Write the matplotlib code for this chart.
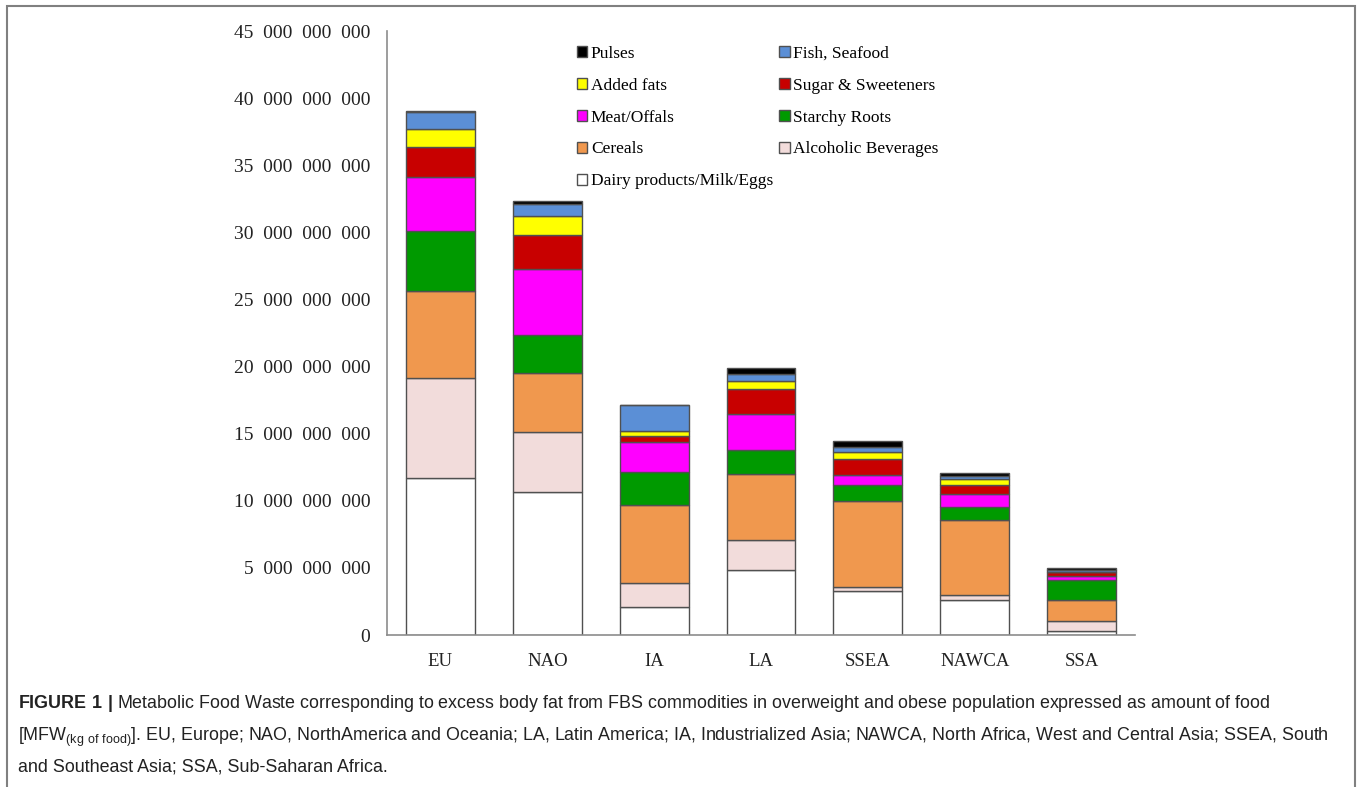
from matplotlib import pyplot as plt
from matplotlib.patches import Rectangle
import numpy as np

# %% Data (values in billions of kg of food)

regions = ['EU','NAO','IA','LA','SSEA','NAWCA','SSA']

dairy     = [11.72,10.66,2.09,4.84,3.30,2.63,0.30]
alcohol   = [7.45,4.47,1.78,2.22,0.30,0.37,0.77]
cereals   = [6.44,4.42,5.79,4.91,6.39,5.55,1.54]
starchy   = [4.49,2.78,2.46,1.82,1.19,0.97,1.49]
meat      = [4.05,4.97,2.26,2.68,0.77,0.96,0.30]
sugar     = [2.19,2.53,0.45,1.86,1.14,0.70,0.29]
fats      = [1.39,1.41,0.39,0.57,0.57,0.47,0.03]
fish      = [1.24,0.85,1.90,0.57,0.37,0.18,0.13]
pulses    = [0.05,0.25,0.05,0.45,0.45,0.26,0.17]

yticks = np.arange(0,46,5)*1e9

# Stack order from the bottom with their colours

series = [
    ('Dairy products/Milk/Eggs',dairy,'#FFFFFF'),
    ('Alcoholic Beverages',alcohol,'#F2DCDB'),
    ('Cereals',cereals,'#F0984E'),
    ('Starchy Roots',starchy,'#009A00'),
    ('Meat/Offals',meat,'#FF00FF'),
    ('Sugar & Sweeteners',sugar,'#C80000'),
    ('Added fats',fats,'#FFFF00'),
    ('Fish, Seafood',fish,'#5B8FD6'),
    ('Pulses',pulses,'#000000'),
]

# %% Figure

plt.rcParams['font.family'] = 'Liberation Serif'
plt.rcParams['mathtext.fontset'] = 'custom'
plt.rcParams['mathtext.rm'] = 'Liberation Sans'
plt.rcParams['mathtext.bf'] = 'Liberation Sans:bold'

fig = plt.figure(figsize=(13.57,7.87),dpi=100)
ax = fig.add_axes([0.2852,0.1931,0.5512,0.7675])

x = np.arange(len(regions))
bottom = np.zeros(len(regions))
bars = {}
for name,values,color in series:
    values = np.array(values)*1e9
    bars[name] = ax.bar(x,values,0.645,bottom=bottom,color=color,
        edgecolor='#505050',linewidth=1,label=name)
    bottom += values

ax.set_xlim(-0.5,6.5)
ax.set_ylim(0,45e9)
ax.set_xticks(x)
ax.set_xticklabels(regions,fontsize=13.5)
ax.set_yticks(yticks)
ax.set_yticklabels([f'{int(v):,}'.replace(',','  ') for v in yticks],fontsize=14)
ax.tick_params(axis='both',length=0,colors='#222222')
ax.tick_params(axis='y',pad=12)
ax.tick_params(axis='x',pad=13)

for side in ['top','right']: ax.spines[side].set_visible(False)
for side in ['left','bottom']:
    ax.spines[side].set_color('#8C8C8C')
    ax.spines[side].set_linewidth(1.2)

# Legend filled row-wise as in the original

order = ['Pulses','Added fats','Meat/Offals','Cereals','Dairy products/Milk/Eggs',
    'Fish, Seafood','Sugar & Sweeteners','Starchy Roots','Alcoholic Beverages']
handles = [bars[name] for name in order]
ax.legend(handles,order,loc='upper left',bbox_to_anchor=(577/1357,1-46/787),
    bbox_transform=fig.transFigure,ncol=2,frameon=False,fontsize=12.5,
    handlelength=0.6,handleheight=0.6,handletextpad=0.2,labelspacing=0.91,
    columnspacing=0.35,borderaxespad=0,borderpad=0)

# %% Caption and frame

caption = (r'$\mathbf{FIGURE\ 1\ |}$ Metabolic Food Waste corresponding to excess body fat '
    'from FBS commodities in overweight and obese population expressed as amount of food\n'
    r'[MFW$_{\mathrm{(kg\ of\ food)}}$]. EU, Europe; NAO, NorthAmerica and Oceania; LA, Latin America; '
    'IA, Industrialized Asia; NAWCA, North Africa, West and Central Asia; SSEA, South\n'
    'and Southeast Asia; SSA, Sub-Saharan Africa.')
fig.text(18/1357,1-693/787,caption,family='Liberation Sans',fontsize=12.9,
    va='top',ha='left',linespacing=1.75,color='#222222')

fig.add_artist(Rectangle((7/1357,-0.05),1348/1357,1.05-6/787,
    transform=fig.transFigure,fill=False,edgecolor='#808080',linewidth=1.5))

plt.savefig('out.png',dpi=100)
